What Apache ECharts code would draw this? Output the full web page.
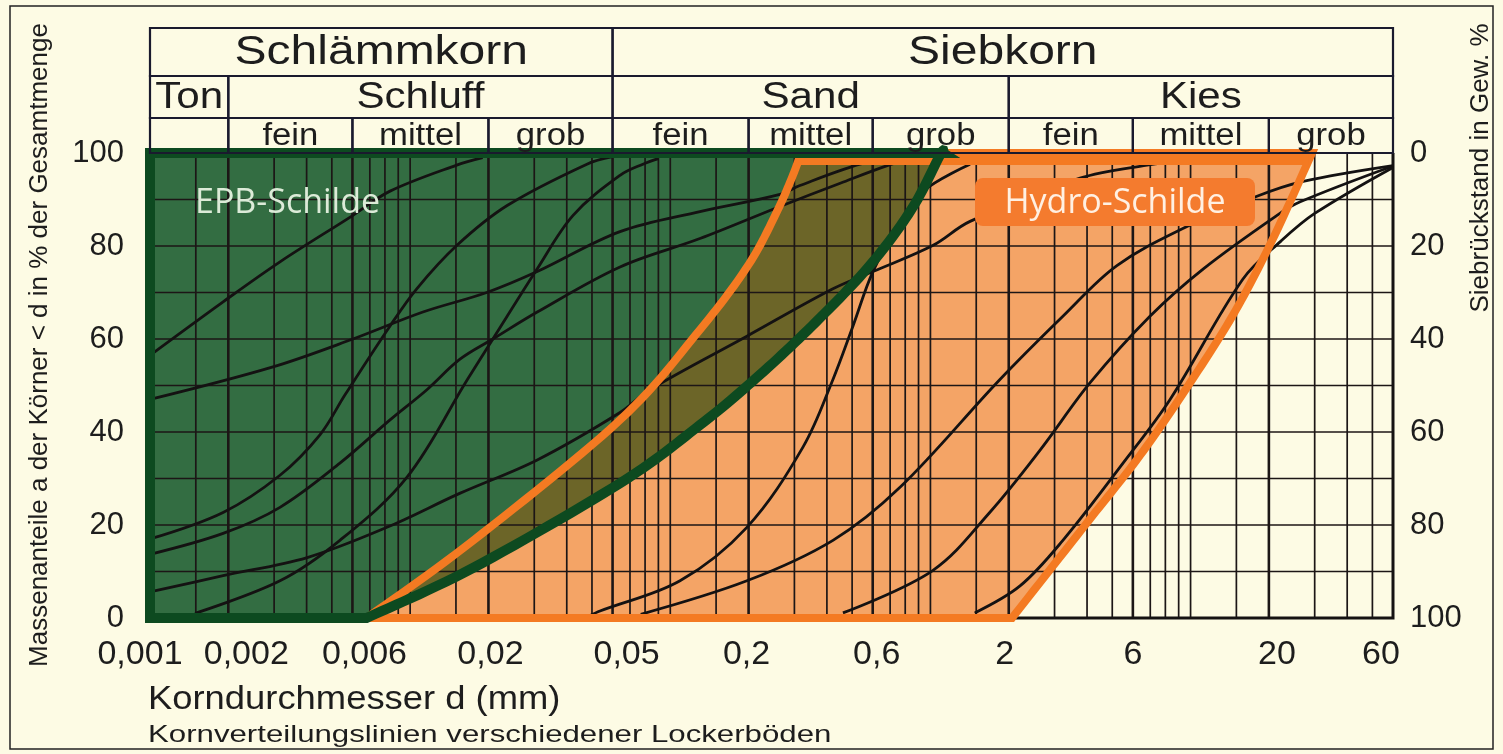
<!DOCTYPE html>
<html>
<head>
<meta charset="utf-8">
<script src="https://cdn.jsdelivr.net/npm/echarts@6/dist/echarts.min.js"></script>
<style>
html,body{margin:0;padding:0;background:#fdfbe4;}
#chart{width:1503px;height:754px;}
</style>
</head>
<body>
<div id="chart"></div>
<script>
// ---------- axis ticks ----------
const grainTicks = [0.001, 0.002, 0.006, 0.02, 0.06, 0.2, 0.6, 2, 6, 20, 60];
const grainTickLabels = ['0,001', '0,002', '0,006', '0,02', '0,05', '0,2', '0,6', '2', '6', '20', '60'];
const percentTicks = [0, 20, 40, 60, 80, 100];

// ---------- grid lines (grain diameter, mm / percent) ----------
const majorGridD = [0.002, 0.006, 0.02, 0.06, 0.2, 0.6, 2, 6, 20];
const minorGridD = [0.0015, 0.003, 0.004, 0.005, 0.007, 0.008, 0.009, 0.01, 0.015,
  0.03, 0.04, 0.05, 0.07, 0.08, 0.09, 0.1, 0.15, 0.3, 0.4, 0.5, 0.7, 0.8, 0.9, 1, 1.5,
  3, 4, 5, 7, 8, 9, 10, 15, 30, 40, 50];
const gridPercent = [10, 20, 30, 40, 50, 60, 70, 80, 90];

// ---------- header table ----------
const mainGroups = [['Schlämmkorn', 0.001, 0.06], ['Siebkorn', 0.06, 60]];
const soilTypes = [['Ton', 0.001, 0.002], ['Schluff', 0.002, 0.06], ['Sand', 0.06, 2], ['Kies', 2, 60]];
const subGroups = [['', 0.001, 0.002], ['fein', 0.002, 0.006], ['mittel', 0.006, 0.02], ['grob', 0.02, 0.06],
  ['fein', 0.06, 0.2], ['mittel', 0.2, 0.6], ['grob', 0.6, 2],
  ['fein', 2, 6], ['mittel', 6, 20], ['grob', 20, 60]];

// ---------- application ranges (d in mm, passing %) ----------
const epbBoundary = [[0.0068, 0], [0.0175, 10.8], [0.0641, 29], [0.13, 41.5], [0.221, 52.3], [0.376, 64.5],
  [0.601, 76.6], [0.857, 88.4], [1.09, 99.6], [1.12, 100]];
const hydroLeft = [[0.0068, 0], [0.0175, 16.7], [0.0641, 42.6], [0.13, 62], [0.2, 76], [0.255, 87],
  [0.295, 95], [0.318, 100]];
const hydroRight = [[2.06, 0], [4.0, 20.5], [6.4, 35], [9.8, 50], [14.5, 65], [20.5, 81], [29.3, 100]];

// ---------- grading curves of various soils ----------
const curve1 = [[0.001, 56.5], [0.00191, 68], [0.00316, 76.6], [0.00603, 86.6], [0.00837, 91.8], [0.0151, 97.4], [0.019, 99]];
const curve2 = [[0.001, 47], [0.00297, 54], [0.00603, 60], [0.0112, 65.8], [0.0197, 70], [0.0308, 74.5], [0.0641, 83.1],
  [0.13, 87.4], [0.264, 91.1], [0.315, 93], [0.536, 97.6], [0.76, 99.2]];
const curve3 = [[0.001, 17], [0.00191, 22.7], [0.00316, 30.7], [0.0045, 39.4], [0.00562, 48], [0.00837, 62.8],
  [0.0106, 70.8], [0.0151, 80.1], [0.0236, 88.7], [0.0478, 97.6], [0.06, 99.2]];
const curve4 = [[0.001, 13.7], [0.00191, 18.2], [0.00316, 23.8], [0.00537, 33.3], [0.00837, 42.6], [0.0116, 49.1],
  [0.0155, 55.6], [0.0208, 60], [0.0308, 65.8], [0.0641, 75.5], [0.13, 81.6], [0.264, 88.5], [0.45, 93.5],
  [0.7, 97.5], [0.9, 99.2]];
const curve5 = [[0.001, 5.6], [0.00191, 9.1], [0.00402, 13], [0.00814, 19.5], [0.0155, 26.8], [0.0308, 34],
  [0.0641, 44.2], [0.0835, 49.1], [0.197, 60.6], [0.422, 70.8], [0.601, 74.5], [1.02, 80.1], [1.42, 85.3],
  [3.76, 94.6], [6.8, 97.4], [10, 98.6]];
const curve6 = [[0.00149, 1], [0.00316, 8], [0.00537, 16.7], [0.00973, 30.3], [0.0166, 51.3], [0.0208, 60],
  [0.0308, 75.1], [0.0423, 86.6], [0.0641, 95.2], [0.0785, 97.6], [0.09, 98.8]];
const curve7 = [[0.049, 0.5], [0.0537, 1.5], [0.109, 8], [0.197, 19.5], [0.324, 36.8], [0.422, 51.3], [0.504, 62.8],
  [0.601, 74.5], [0.764, 85], [0.936, 91.8], [1.42, 97.6]];
const curve8 = [[0.077, 0.8], [0.197, 8], [0.422, 16.7], [0.764, 28.1], [1.85, 51.3], [3.23, 64.9], [5.21, 75.8],
  [9.69, 84.2], [18, 90.7], [27.1, 93.9], [60, 97.3]];
const curve9 = [[0.461, 1.1], [1.02, 10.2], [1.69, 22.7], [2.64, 36.1], [4.11, 50.6], [6.98, 64.9], [11.2, 75.1],
  [21.5, 86.6], [26.4, 89.5], [60, 97.2]];
const curve10 = [[1.48, 1.1], [2.21, 6.9], [3.23, 16.7], [5.5, 33.3], [8.34, 47], [15.9, 72.9], [22.2, 81],
  [30, 87], [60, 96.9]];
const soilCurves = [curve1, curve2, curve3, curve4, curve5, curve6, curve7, curve8, curve9, curve10];

// ---------- helpers ----------
const FONT = '"Liberation Sans", Arial, sans-serif';
const TXT = '#1d1d1d';
// horizontal nudges (px) of individual x-axis labels, as placed in the original figure
const labelShift = [-10, 18, 12, 2, 14, -2, 4, -4, 0, 8, -12];

function tickIndex(v) {
  for (let i = 0; i < grainTicks.length; i++) {
    if (Math.abs(Math.log10(v) - Math.log10(grainTicks[i])) < 1e-6) return i;
  }
  return -1;
}
const xLabelRich = {};
labelShift.forEach((s, i) => {
  xLabelRich['t' + i] = {
    fontFamily: FONT, fontSize: 34, color: TXT,
    padding: s >= 0 ? [0, 0, 0, 2 * s] : [0, -2 * s, 0, 0]
  };
});
function catmull(p0, p1, p2, p3, t) {
  const t2 = t * t, t3 = t2 * t;
  return [0, 1].map(j => 0.5 * ((2 * p1[j]) + (-p0[j] + p2[j]) * t +
    (2 * p0[j] - 5 * p1[j] + 4 * p2[j] - p3[j]) * t2 +
    (-p0[j] + 3 * p1[j] - 3 * p2[j] + p3[j]) * t3));
}
function smoothPx(api, pts) {
  const px = pts.map(p => api.coord(p));
  const out = [];
  for (let i = 0; i < px.length - 1; i++) {
    const p0 = px[i - 1] || px[i], p1 = px[i], p2 = px[i + 1], p3 = px[i + 2] || px[i + 1];
    for (let k = 0; k < 14; k++) out.push(catmull(p0, p1, p2, p3, k / 14));
  }
  out.push(px[px.length - 1]);
  return out;
}

// header cells
const headerRows = [mainGroups, soilTypes, subGroups];
const headerData = [], headerNames = [];
headerRows.forEach((row, r) => row.forEach(c => { headerData.push([c[1], c[2], r]); headerNames.push(c[0]); }));
const rowEdges = [0, 48, 90, 125];
const rowFonts = [40, 36, 31];
const rowScale = [1.2, 1.17, 1.12];

const chart = echarts.init(document.getElementById('chart'), null, {renderer: 'canvas'});

const curveSeries = soilCurves.map((data, i) => ({
  name: 'Boden ' + (i + 1),
  type: 'line',
  xAxisIndex: 0, yAxisIndex: 0,
  data: data,
  smooth: 0.35,
  symbol: 'none',
  silent: true,
  z: 4,
  lineStyle: {color: '#141212', width: 2.8}
}));

const option = {
  backgroundColor: '#fdfbe4',
  animation: false,
  grid: [
    {left: 150, right: 110, top: 153, height: 465},
    {left: 150, right: 110, top: 28, height: 125}
  ],
  xAxis: [
    {
      type: 'log', logBase: 10, min: 0.00099999999, max: 60, gridIndex: 0,
      axisLine: {show: false}, axisTick: {show: false}, splitLine: {show: false},
      axisLabel: {
        customValues: grainTicks,
        formatter: v => {
          const i = tickIndex(v);
          return i < 0 ? '' : '{t' + i + '|' + grainTickLabels[i] + '}';
        },
        rich: xLabelRich,
        fontFamily: FONT, fontSize: 34, color: TXT, margin: 20
      }
    },
    {
      type: 'log', logBase: 10, min: 0.00099999999, max: 60, gridIndex: 1, show: false
    }
  ],
  yAxis: [
    {
      type: 'value', min: 0, max: 100, interval: 20, gridIndex: 0, position: 'left',
      axisLine: {show: false}, axisTick: {show: false}, splitLine: {show: false},
      axisLabel: {fontFamily: FONT, fontSize: 31, color: TXT, margin: 26}
    },
    {
      type: 'value', min: 0, max: 100, interval: 20, gridIndex: 0, position: 'right', inverse: true,
      axisLine: {show: false}, axisTick: {show: false}, splitLine: {show: false},
      axisLabel: {fontFamily: FONT, fontSize: 31, color: TXT, margin: 17}
    },
    {
      type: 'value', min: 0, max: 125, inverse: true, gridIndex: 1, show: false
    }
  ],
  series: [
    // application-range fills
    {
      type: 'custom', name: 'Bereiche', xAxisIndex: 0, yAxisIndex: 0, z: 1, silent: true,
      data: [[1, 50]],
      renderItem: (params, api) => {
        const epb = smoothPx(api, epbBoundary);
        const hl = smoothPx(api, hydroLeft);
        const hr = smoothPx(api, hydroRight);
        const greenPoly = [api.coord([0.001, 0])].concat(epb, [api.coord([0.001, 100])]);
        const orangePoly = hl.concat(hr.slice().reverse());
        const olivePoly = hl.concat(epb.slice().reverse());
        return {type: 'group', children: [
          {type: 'polygon', shape: {points: greenPoly}, style: {fill: '#336d42'}},
          {type: 'polygon', shape: {points: orangePoly}, style: {fill: '#f4a466'}},
          {type: 'polygon', shape: {points: olivePoly}, style: {fill: '#6c6528'}}
        ]};
      }
    },
    // vertical grid lines
    {
      type: 'custom', name: 'Raster d', xAxisIndex: 0, yAxisIndex: 0, z: 2, silent: true,
      data: majorGridD.map(v => [v, 1]).concat(minorGridD.map(v => [v, 0])),
      renderItem: (params, api) => {
        const v = api.value(0), major = api.value(1);
        const a = api.coord([v, 0]), b = api.coord([v, 100]);
        return {type: 'line', shape: {x1: a[0], y1: a[1], x2: b[0], y2: b[1]},
          style: {stroke: '#1c1616', lineWidth: major ? 2.6 : 1.7}};
      }
    },
    // horizontal grid lines
    {
      type: 'custom', name: 'Raster %', xAxisIndex: 0, yAxisIndex: 0, z: 2, silent: true,
      data: gridPercent.map(p => [1, p]),
      renderItem: (params, api) => {
        const p = api.value(1);
        const a = api.coord([0.001, p]), b = api.coord([60, p]);
        return {type: 'line', shape: {x1: a[0], y1: a[1], x2: b[0], y2: b[1]},
          style: {stroke: '#1c1616', lineWidth: 1.7}};
      }
    },
    // plot frame (bottom and right)
    {
      type: 'custom', name: 'Rahmen', xAxisIndex: 0, yAxisIndex: 0, z: 3, silent: true,
      data: [[1, 50]],
      renderItem: (params, api) => {
        const bl = api.coord([0.001, 0]), br = api.coord([60, 0]), tr = api.coord([60, 100]);
        return {type: 'polyline', shape: {points: [bl, br, tr]},
          style: {stroke: '#151212', lineWidth: 3, fill: null}};
      }
    }
  ].concat(curveSeries, [
    // boundaries of the application ranges
    {
      type: 'custom', name: 'Grenzen', xAxisIndex: 0, yAxisIndex: 0, z: 5, silent: true,
      data: [[1, 50]],
      renderItem: (params, api) => {
        const epb = smoothPx(api, epbBoundary);
        const hl = smoothPx(api, hydroLeft);
        const hr = smoothPx(api, hydroRight);
        const greenPoly = [api.coord([0.001, 0])].concat(epb, [api.coord([0.001, 100])]);
        const orangePoly = hl.concat(hr.slice().reverse());
        const tl = hl[hl.length - 1], trr = hr[hr.length - 1];
        return {type: 'group', children: [
          {type: 'polygon', shape: {points: orangePoly},
            style: {fill: null, stroke: '#f47a22', lineWidth: 8, lineJoin: 'miter'}},
          {type: 'line', shape: {x1: tl[0], y1: tl[1] + 6, x2: trr[0] - 4, y2: trr[1] + 6},
            style: {stroke: '#f47a22', lineWidth: 12}},
          {type: 'polygon', shape: {points: greenPoly},
            style: {fill: null, stroke: '#0d4a20', lineWidth: 10, lineJoin: 'miter'}}
        ]};
      }
    },
    // header table
    {
      type: 'custom', name: 'Kopf', xAxisIndex: 1, yAxisIndex: 2, z: 6, silent: true,
      data: headerData,
      renderItem: (params, api) => {
        const x0 = api.value(0), x1 = api.value(1), r = api.value(2);
        const a = api.coord([x0, rowEdges[r]]), b = api.coord([x1, rowEdges[r + 1]]);
        const label = headerNames[params.dataIndex];
        return {type: 'group', children: [
          {type: 'rect', shape: {x: a[0], y: a[1], width: b[0] - a[0], height: b[1] - a[1]},
            style: {fill: null, stroke: '#1a1a2e', lineWidth: 2.2}},
          {type: 'text', x: (a[0] + b[0]) / 2, y: (a[1] + b[1]) / 2 + 1, scaleX: rowScale[r],
            style: {text: label, font: rowFonts[r] + 'px ' + FONT, fill: TXT,
              align: 'center', verticalAlign: 'middle'}}
        ]};
      }
    }
  ]),
  graphic: [
    {type: 'rect', z: 100, shape: {x: 10, y: 6, width: 1483, height: 743},
      style: {fill: null, stroke: '#222', lineWidth: 1.5}},
    {type: 'text', z: 100, x: 40, y: 345, rotation: Math.PI / 2,
      style: {text: 'Massenanteile a der Körner < d in % der Gesamtmenge', font: '26px ' + FONT,
        fill: TXT, align: 'center', verticalAlign: 'middle'}},
    {type: 'text', z: 100, x: 1481, y: 168, rotation: Math.PI / 2,
      style: {text: 'Siebrückstand in Gew. %', font: '26px ' + FONT,
        fill: TXT, align: 'center', verticalAlign: 'middle'}},
    {type: 'text', z: 100, x: 148, y: 700, scaleX: 1.07,
      style: {text: 'Korndurchmesser d (mm)', font: '34px ' + FONT, fill: TXT,
        align: 'left', verticalAlign: 'middle'}},
    {type: 'text', z: 100, x: 148, y: 735, scaleX: 1.3,
      style: {text: 'Kornverteilungslinien verschiedener Lockerböden', font: '24px ' + FONT, fill: TXT,
        align: 'left', verticalAlign: 'middle'}},
    {type: 'text', z: 100, x: 195, y: 203,
      style: {text: 'EPB-Schilde', font: '34px "Open Sans", "Noto Sans", sans-serif', fill: '#dcebd8',
        align: 'left', verticalAlign: 'middle'}},
    {type: 'rect', z: 100, shape: {x: 975, y: 178, width: 280, height: 48, r: 8},
      style: {fill: '#f47b2e'}},
    {type: 'text', z: 101, x: 1115, y: 203,
      style: {text: 'Hydro-Schilde', font: '34px "Open Sans", "Noto Sans", sans-serif', fill: '#fff0e2',
        align: 'center', verticalAlign: 'middle'}}
  ]
};
chart.setOption(option);
</script>
</body>
</html>
